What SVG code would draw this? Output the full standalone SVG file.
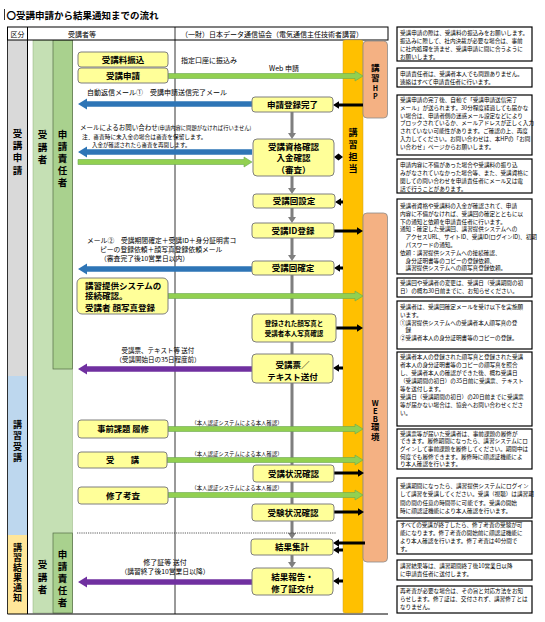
<svg xmlns="http://www.w3.org/2000/svg" width="545" height="622" viewBox="0 0 545 622">
<style>
.f{font-family:"Noto Sans CJK JP","Noto Sans CJK SC",sans-serif;fill:#000}
.b{font-weight:bold}
.c{text-anchor:middle}
.vt{writing-mode:vertical-rl;text-orientation:upright;font-family:"Noto Sans CJK JP","Noto Sans CJK SC",sans-serif;font-weight:bold;fill:#000}
.box{fill:#FFFF99;stroke:#7F7F7F;stroke-width:1}
.note{fill:#fff;stroke:#000;stroke-width:1.2}
.nt{font-family:"Noto Sans CJK JP","Noto Sans CJK SC",sans-serif;font-size:5.6px;fill:#000}
.blue{fill:#2E75B6}
.green{fill:#92D050;stroke:#6AA84F;stroke-width:0.6}
.purple{fill:#7030A0}
.blk{fill:#000}
.gry{fill:#7F7F7F}
.ln{stroke:#000;fill:none}
</style>
<rect width="545" height="622" fill="#fff"/>

<g id="title">
<line x1="4.5" y1="9" x2="4.5" y2="20" stroke="#000" stroke-width="0.8"/>
<text class="f b" x="6.5" y="18.5" font-size="9.5">〇受講申請から結果通知までの流れ</text>
</g>

<g id="lanes">
<rect x="7.5" y="40" width="20" height="336" fill="#D9D9D9"/>
<rect x="7.5" y="376" width="20" height="159" fill="#BDD7EE"/>
<rect x="7.5" y="535" width="20" height="79" fill="#FFE699"/>
<rect x="33" y="40" width="39.5" height="573" fill="#C5E0B4" stroke="#8FAF7A" stroke-width="0.5"/>
<rect x="53" y="40" width="19.5" height="329" fill="#A9D18E" stroke="#556B47" stroke-width="0.7"/>
<rect x="53" y="533" width="19.5" height="80" fill="#A9D18E" stroke="#556B47" stroke-width="0.7"/>
<rect x="7.5" y="27" width="380.5" height="13" fill="#fff" stroke="#000" stroke-width="1"/>
<line class="ln" x1="27.5" y1="27" x2="27.5" y2="614" stroke-width="1"/>
<line class="ln" x1="7.5" y1="40" x2="7.5" y2="614" stroke-width="0.8"/>
<line class="ln" x1="175" y1="27" x2="175" y2="614" stroke-width="0.8"/>
<line class="ln" x1="7.5" y1="614" x2="388" y2="614" stroke-width="1"/>
<text class="f" font-size="7" x="17.5" y="36.5" text-anchor="middle">区分</text>
<text class="f" font-size="7" x="82" y="36.5" text-anchor="middle">受講者等</text>
<text class="f" font-size="7" x="272" y="36.5" text-anchor="middle">（一財）日本データ通信協会（電気通信主任技術者講習）</text>
<text class="vt" font-size="9.5" letter-spacing="2.8" x="17.5" y="128.5">受講申請</text>
<text class="vt" font-size="9.5" letter-spacing="3" x="42.5" y="130">受講者</text>
<text class="vt" font-size="9.5" letter-spacing="2.5" x="62.5" y="130">申請責任者</text>
<text class="vt" font-size="9" letter-spacing="2" x="17.5" y="420.5">講習受講</text>
<text class="vt" font-size="9" letter-spacing="1" x="17.5" y="543.5">講習結果通知</text>
<text class="vt" font-size="9.5" letter-spacing="3" x="42.5" y="560">受講者</text>
<text class="vt" font-size="9.5" letter-spacing="2.5" x="62.5" y="550">申請責任者</text>
</g>

<g id="staff">
<rect x="343" y="40" width="20" height="573" rx="2" fill="#FFC000" stroke="#C9A227" stroke-width="0.5"/>
<text class="vt" font-size="9" letter-spacing="3" x="353" y="128.5">講習担当</text>
</g>
<g id="hp">
<rect x="363" y="41" width="24.5" height="77" rx="4" fill="#F4B183" stroke="#8C8C8C" stroke-width="0.8"/>
<text class="vt" font-size="8.5" letter-spacing="2" x="375.3" y="63.5">講習<tspan font-size="7" letter-spacing="1">HP</tspan></text>
</g>
<g id="web">
<rect x="363" y="213" width="24.5" height="349" rx="4" fill="#F4B183" stroke="#8C8C8C" stroke-width="0.8"/>
<text class="vt" font-weight="normal" font-size="7.5" letter-spacing="0.5" x="375.3" y="399">WEB<tspan font-size="8.5" letter-spacing="1.5">環境</tspan></text>
</g>

<g id="connectors">
<polygon class="gry" points="290.5,112 290.5,133 288,133 292,139 296,133 293.5,133 293.5,112"/>
<polygon class="gry" points="290.5,176 290.5,188 288,188 292,194 296,188 293.5,188 293.5,176"/>
<polygon class="gry" points="290.5,208 290.5,217 288,217 292,223 296,217 293.5,217 293.5,208"/>
<polygon class="gry" points="290.5,238 290.5,255 288,255 292,261 296,255 293.5,255 293.5,238"/>
<rect class="gry" x="290.5" y="275" width="3" height="79"/>
<polygon class="gry" points="290.5,383 290.5,533 288,533 292,539 296,533 293.5,533 293.5,383"/>
<polygon class="gry" points="290.5,555 290.5,562 288,562 292,568 296,562 293.5,562 293.5,555"/>

<polygon class="blue" points="252,101.2 87,101.2 87,98.5 78,104 87,109.5 87,106.8 252,106.8"/>
<polygon class="blue" points="252,149.2 87,149.2 87,146.5 78,152 87,157.5 87,154.8 252,154.8"/>
<polygon class="blue" points="252,266.2 87,266.2 87,263.5 78,269 87,274.5 87,271.8 252,271.8"/>
<polygon class="purple" points="252,366.2 87,366.2 87,363.5 78,369 87,374.5 87,371.8 252,371.8"/>
<polygon class="purple" points="252,579.2 87,579.2 87,576.5 78,582 87,587.5 87,584.8 252,584.8"/>

<polygon class="green" points="168,73.5 355,73.5 355,71 363,76 355,81 355,78.5 168,78.5"/>
<polygon class="green" points="78,159.5 244,159.5 244,157 252,162 244,167 244,164.5 78,164.5"/>
<polygon class="green" points="168,293.5 355,293.5 355,291 363,296 355,301 355,298.5 168,298.5"/>
<polygon class="green" points="168,426.5 355,426.5 355,424 363,429 355,434 355,431.5 168,431.5"/>
<polygon class="green" points="167,457.5 355,457.5 355,455 363,460 355,465 355,462.5 167,462.5"/>
<polygon class="green" points="168,492.5 355,492.5 355,490 363,495 355,500 355,497.5 168,497.5"/>

<polygon class="blk" points="363,103.4 339,103.4 339,101.2 333,105 339,108.8 339,106.6 363,106.6"/>
<polygon class="blk" points="334,157 338.5,153.5 343,157 338.5,160.5"/>
<polygon class="blk" points="343,200.4 341,200.4 341,198.2 335,202 341,205.8 341,203.6 343,203.6"/>
<polygon class="blk" points="334,229.4 357,229.4 357,227.2 363,231 357,234.8 357,232.6 334,232.6"/>
<polygon class="blk" points="343,266.4 340,266.4 340,264.2 334,268 340,271.8 340,269.6 343,269.6"/>
<polygon class="blk" points="336,326.4 357,326.4 357,324.2 363,328 357,331.8 357,329.6 336,329.6"/>
<polygon class="blk" points="343,366.4 339,366.4 339,364.2 333,368 339,371.8 339,369.6 343,369.6"/>
<polygon class="blk" points="334,471.4 358,471.4 358,469.2 364,473 358,476.8 358,474.6 334,474.6"/>
<polygon class="blk" points="334,510.4 358,510.4 358,508.2 364,512 358,515.8 358,513.6 334,513.6"/>
<polygon class="blk" points="365,541.4 339,541.4 339,539.2 333,543 339,546.8 339,544.6 365,544.6"/>
<polygon class="blk" points="343,548.4 339,548.4 339,546.2 333,550 339,553.8 339,551.6 343,551.6"/>
<polygon class="blk" points="343,579.4 339,579.4 339,577.2 333,581 339,584.8 339,582.6 343,582.6"/>

<line x1="77" y1="533" x2="336" y2="533" stroke="#333" stroke-width="0.8" stroke-dasharray="1.2,1"/>

<text class="f" font-size="7" x="181" y="62.5">指定口座に振込み</text>
<text class="f" font-size="7" x="284" y="70.5" text-anchor="middle">Web 申請</text>
<text class="f" font-size="7" x="87" y="94.5">自動返信メール①　受講申請送信完了メール</text>
<text class="f" font-size="6.5" x="80" y="129.5">メールによるお問い合わせ<tspan font-size="5.3">(申請内容に問題がなければ行いません)</tspan></text>
<text class="f" font-size="5.7" x="82" y="139">注．審査時に未入金の場合は審査を保留します。</text>
<text class="f" font-size="5.5" x="92" y="147">入金が確認されたら審査を再開します。</text>
<text class="f" font-size="6.8" x="87" y="242.5">メール②　受講期間確定＋受講ID＋身分証明書コ</text>
<text class="f" font-size="6.8" x="100" y="251.5">ピーの登録依頼＋顔写真登録依頼メール</text>
<text class="f" font-size="6.8" x="100" y="260.5">（審査完了後10営業日以内）</text>
<text class="f" font-size="6.5" x="158" y="352.5" text-anchor="middle">受講票、テキスト等 送付</text>
<text class="f" font-size="6.5" x="158" y="361.5" text-anchor="middle">（受講開始日の35日程度前）</text>
<text class="f" font-size="5.4" x="237" y="425" text-anchor="middle">（本人認証システムによる本人確認）</text>
<text class="f" font-size="5.4" x="237" y="455.5" text-anchor="middle">（本人認証システムによる本人確認）</text>
<text class="f" font-size="5.4" x="237" y="490" text-anchor="middle">（本人認証システムによる本人確認）</text>
<text class="f" font-size="7" x="165" y="564.5" text-anchor="middle">修了証等 送付</text>
<text class="f" font-size="6.8" x="165" y="573.5" text-anchor="middle">（講習終了後10営業日以降）</text>
</g>

<g id="n-furikomi"><rect class="box" x="78" y="52" width="90" height="15" rx="3"/><text class="f b c" font-size="8.5" x="123" y="62.8">受講料振込</text></g>
<g id="n-shinsei"><rect class="box" x="78" y="68" width="90" height="15" rx="3"/><text class="f b c" font-size="8.5" x="123" y="78.8">受講申請</text></g>
<g id="n-toroku"><rect class="box" x="252" y="97" width="81" height="15" rx="3"/><text class="f b c" font-size="8.5" x="292.5" y="107.8">申請登録完了</text></g>
<g id="n-shikaku"><rect class="box" x="253" y="139" width="81" height="37" rx="4"/><text class="f b c" font-size="8.5"><tspan x="293.5" y="150">受講資格確認</tspan><tspan x="293.5" y="161">入金確認</tspan><tspan x="293.5" y="172.5">（審査）</tspan></text></g>
<g id="n-settei"><rect class="box" x="253" y="194" width="82" height="14" rx="3"/><text class="f b c" font-size="8.5" x="294" y="204.3">受講回設定</text></g>
<g id="n-id"><rect class="box" x="252" y="223" width="82" height="15" rx="3"/><text class="f b c" font-size="8.5" x="293" y="233.8">受講ID登録</text></g>
<g id="n-kakutei"><rect class="box" x="252" y="261" width="82" height="14" rx="3"/><text class="f b c" font-size="8.5" x="293" y="271.3">受講回確定</text></g>
<g id="n-setsuzoku"><rect class="box" x="77" y="278" width="91" height="36" rx="5"/><text class="f b" font-size="8.5"><tspan x="85" y="288.8">講習提供システムの</tspan><tspan x="85" y="299.3">接続確認。</tspan><tspan x="85" y="311.3">受講者 顔写真登録</tspan></text></g>
<g id="n-shashin"><rect class="box" x="252" y="314" width="84" height="28" rx="4"/><text class="f b c" font-size="6.5"><tspan x="294" y="325.5">登録された顔写真と</tspan><tspan x="294" y="335.5">受講者本人写真確認</tspan></text></g>
<g id="n-juko-hyo"><rect class="box" x="252" y="354" width="81" height="29" rx="4"/><text class="f b c" font-size="8.5"><tspan x="292.5" y="367.5">受講票／</tspan><tspan x="292.5" y="379.5">テキスト送付</tspan></text></g>
<g id="n-jizen"><rect class="box" x="78" y="420" width="90" height="18" rx="3"/><text class="f b c" font-size="8.3" x="123" y="432">事前課題 履修</text></g>
<g id="n-juko"><rect class="box" x="78" y="452" width="89" height="16" rx="3"/><text class="f b c" font-size="8.3" x="122.5" y="463">受　　講</text></g>
<g id="n-jokyo"><rect class="box" x="253" y="465" width="81" height="17" rx="3"/><text class="f b c" font-size="8.5" x="293.5" y="476.5">受講状況確認</text></g>
<g id="n-kosa"><rect class="box" x="78" y="487" width="90" height="17" rx="3"/><text class="f b c" font-size="8.5" x="123" y="498.5">修了考査</text></g>
<g id="n-juken"><rect class="box" x="252" y="504" width="82" height="17" rx="3"/><text class="f b c" font-size="8.5" x="293" y="515.5">受験状況確認</text></g>
<g id="n-shukei"><rect class="box" x="251" y="539" width="82" height="16" rx="3"/><text class="f b c" font-size="8.5" x="292" y="550">結果集計</text></g>
<g id="n-hokoku"><rect class="box" x="252" y="568" width="81" height="27" rx="4"/><text class="f b c" font-size="8.5"><tspan x="292.5" y="579.5">結果報告・</tspan><tspan x="292.5" y="591.5">修了証交付</tspan></text></g>

<g id="note1"><rect class="note" x="397" y="27" width="135" height="34"/><text class="nt"><tspan x="400" y="34.5">受講申請の際は、受講料の振込みをお願いします。</tspan><tspan x="400" y="42.8">振込みに際して、社内決裁が必要な場合は、事前</tspan><tspan x="400" y="51">に社内処理を済ませ、受講申請に間に合うように</tspan><tspan x="400" y="59">お願いします。</tspan></text></g>
<g id="note2"><rect class="note" x="397" y="68" width="135" height="19"/><text class="nt"><tspan x="400" y="75.5">申請責任者は、受講者本人でも問題ありません。</tspan><tspan x="400" y="84">連絡はすべて申請責任者に行います。</tspan></text></g>
<g id="note3"><rect class="note" x="397" y="95" width="135" height="60"/><text class="nt"><tspan x="400" y="102">受講申請の完了後、自動で「受講申請送信完了</tspan><tspan x="400" y="109.8">メール」が送られます。30分程度経過しても届かな</tspan><tspan x="400" y="117.6">い場合は、申請者側の迷惑メール設定などにより</tspan><tspan x="400" y="125.4">ブロックされているか、メールアドレスが正しく入力</tspan><tspan x="400" y="133.2">されていない可能性があります。ご確認の上、再度</tspan><tspan x="400" y="141">入力してください。お問い合わせは、本HPの「お問</tspan><tspan x="400" y="148.8">い合わせ」ページからお願いします。</tspan></text></g>
<g id="note4"><rect class="note" x="397" y="159" width="135" height="34"/><text class="nt"><tspan x="400" y="167">申請内容に不備があった場合や受講料の振り込</tspan><tspan x="400" y="175">みがなされていなかった場合等、また、受講資格に</tspan><tspan x="400" y="183">関しての問い合わせを申請責任者にメール又は電</tspan><tspan x="400" y="191">話で行うことがあります。</tspan></text></g>
<g id="note5"><rect class="note" x="397" y="199" width="135" height="75"/><text class="nt"><tspan x="400" y="208">受講者資格や受講料の入金が確認されて、申請</tspan><tspan x="400" y="215.8">内容に不備がなければ、受講回の確定とともに以</tspan><tspan x="400" y="223.6">下の通知と依頼を申請責任者に行います。</tspan><tspan x="400" y="231.4">通知：確定した受講回、講習提供システムへの</tspan><tspan x="400" y="239.2">　アクセスURL、サイトID、受講ID(ログインID)、初期</tspan><tspan x="400" y="247">　パスワードの通知。</tspan><tspan x="400" y="254.8">依頼：講習提供システムへの接続確認、</tspan><tspan x="400" y="262.6">　身分証明書等のコピーの登録依頼、</tspan><tspan x="400" y="270.4">　講習提供システムへの顔写真登録依頼。</tspan></text></g>
<g id="note6"><rect class="note" x="397" y="278" width="135" height="19"/><text class="nt"><tspan x="400" y="285.3">受講回や受講者の変更は、受講日（受講期間の初</tspan><tspan x="400" y="293">日）の概ね30日前までに、お知らせください。</tspan></text></g>
<g id="note7"><rect class="note" x="397" y="301" width="135" height="48"/><text class="nt"><tspan x="400" y="308.7">受講者は、受講回確定メールを受け以下を実施願</tspan><tspan x="400" y="317">います。</tspan><tspan x="400" y="324.7">①講習提供システムへの受講者本人顔写真の登</tspan><tspan x="400" y="332">　録</tspan><tspan x="400" y="340.3">②受講者本人の身分証明書等のコピーの登録。</tspan></text></g>
<g id="note8"><rect class="note" x="397" y="352" width="135" height="74"/><text class="nt"><tspan x="400" y="358.7">受講者本人の登録された顔写真と登録された受講</tspan><tspan x="400" y="366.7">者本人の身分証明書等のコピーの顔写真を照合</tspan><tspan x="400" y="374.7">し、受講者本人の確認ができた後、概ね受講日</tspan><tspan x="400" y="382.7">（受講期間の初日）の35日前に受講票、テキスト</tspan><tspan x="400" y="390.7">等を送付します。</tspan><tspan x="400" y="398.7">受講日（受講期間の初日）の20日前までに受講票</tspan><tspan x="400" y="406.7">等が届かない場合は、協会へお問い合わせくださ</tspan><tspan x="400" y="414.5">い。</tspan></text></g>
<g id="note9"><rect class="note" x="397" y="429" width="135" height="40"/><text class="nt"><tspan x="400" y="435.5">受講票等が届いた受講者は、事前課題の履修が</tspan><tspan x="400" y="443.2">できます。履修期間になったら、講習システムにロ</tspan><tspan x="400" y="450.9">グインして事前課題を履修してください。期間中は</tspan><tspan x="400" y="458.6">何度でも履修できます。履修時に顔認証機能によ</tspan><tspan x="400" y="466.3">り本人確認を行います。</tspan></text></g>
<g id="note10"><rect class="note" x="397" y="478" width="135" height="40"/><text class="nt"><tspan x="400" y="487.5">受講期間になったら、講習提供システムにログイン</tspan><tspan x="400" y="496">して講習を受講してください。受講（視聴）は講習期</tspan><tspan x="400" y="504.5">間の間の任意の時間帯に可能です。受講の開始</tspan><tspan x="400" y="513">時に顔認証機能により本人確認を行います。</tspan></text></g>
<g id="note11"><rect class="note" x="397" y="521" width="135" height="33"/><text class="nt"><tspan x="400" y="527">すべての受講が終了したら、修了考査の受験が可</tspan><tspan x="400" y="535">能になります。修了考査の開始前に顔認証機能に</tspan><tspan x="400" y="543">より本人確認を行います。修了考査は40分間で</tspan><tspan x="400" y="551">す。</tspan></text></g>
<g id="note12"><rect class="note" x="397" y="560" width="135" height="20"/><text class="nt"><tspan x="400" y="567.7">講習結果等は、講習期間終了後10営業日以降</tspan><tspan x="400" y="575.5">に申請責任者に送付します。</tspan></text></g>
<g id="note13"><rect class="note" x="397" y="586" width="135" height="27"/><text class="nt"><tspan x="400" y="592.7">再考査が必要な場合は、その旨と対応方法をお知</tspan><tspan x="400" y="601">らせします。修了証は、交付されず、講習修了とは</tspan><tspan x="400" y="608.7">なりません。</tspan></text></g>
</svg>
